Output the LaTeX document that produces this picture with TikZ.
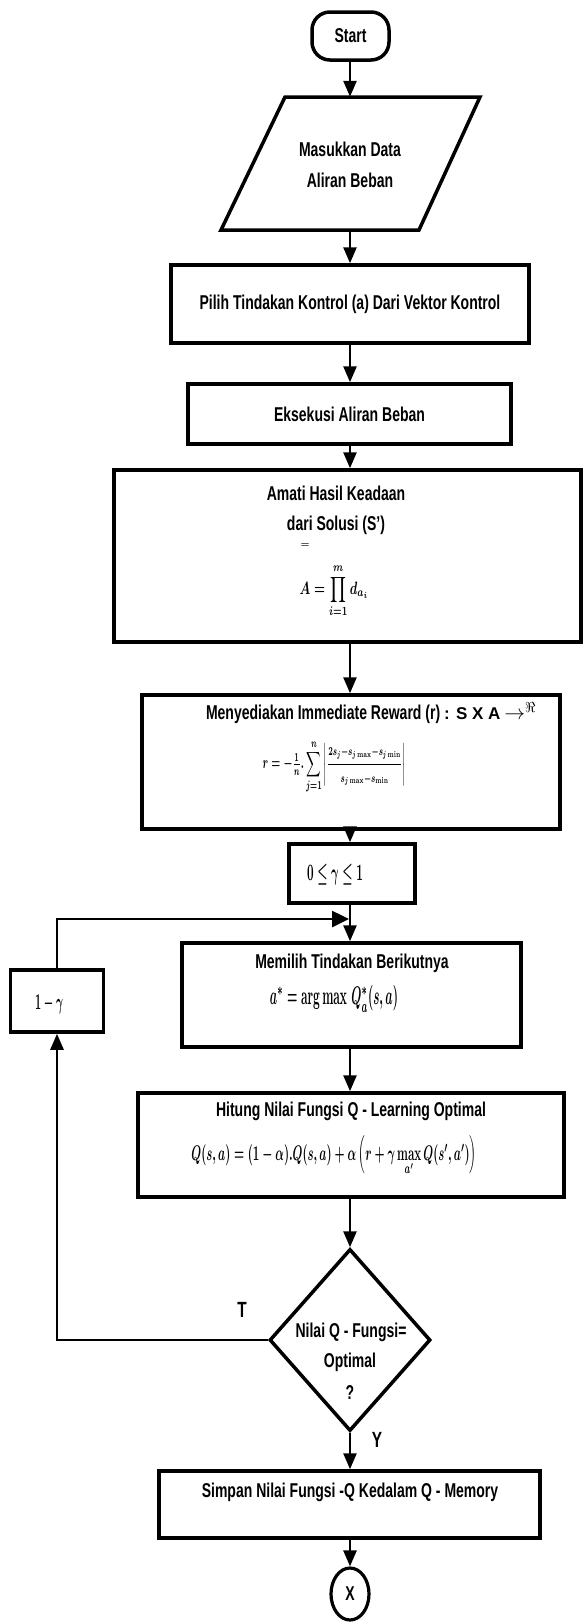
\documentclass[tikz,border=0pt]{standalone}
\usepackage{amsmath}
\usepackage{graphicx}
\usepackage[no-math]{fontspec}
\setmainfont{Liberation Sans}[FakeStretch=0.7]
\newfontfamily\widefont{Liberation Sans}
\usetikzlibrary{arrows.meta,shapes.geometric}
\begin{document}
\begin{tikzpicture}[x=1pt,y=-1pt,
  box/.style={draw,rectangle,line width=3.5pt,inner sep=0pt},
  lbl/.style={inner sep=0pt,align=center,font=\fontsize{20}{24}\selectfont\bfseries},
  frm/.style={inner sep=0pt},
  arr/.style={line width=2.6pt,-{Triangle[length=16pt,width=13pt]}},
  ln/.style={line width=2.6pt}]
\useasboundingbox (0,0) rectangle (584,1623);
\coordinate (ax) at (350,0);

% start
\node[box,rounded corners=18pt,minimum width=77pt,minimum height=48pt,lbl] (start) at (350.5,36) {Start};

% input parallelogram
\draw[line width=3.5pt] (285,97) -- (480,97) -- (419,230) -- (221,230) -- cycle;
\node[inner sep=0pt,minimum width=190pt,minimum height=133pt] (input) at (350.5,163.5) {};
\node[lbl,font=\fontsize{20}{31}\selectfont\bfseries] (tinput) at (350,165) {Masukkan Data\\Aliran Beban};

% process boxes
\node[box,minimum width=358pt,minimum height=78pt,lbl] (pilih) at (350,304) {Pilih Tindakan Kontrol (a) Dari Vektor Kontrol};
\node[box,minimum width=323pt,minimum height=60pt,lbl] (eks) at (349.5,414) {Eksekusi Aliran Beban};

\node[box,minimum width=467pt,minimum height=172pt] (amati) at (347.5,556) {};
\node[lbl] (tamati1) at (336,493) {Amati Hasil Keadaan};
\node[lbl] (tamati2) at (336,525) {dari Solusi (S')};
\node[frm] (eqsign) at (305,546) {\resizebox{9pt}{!}{$\boldsymbol{=}$}};
\node[frm] (famati) at (334,591) {\resizebox*{69pt}{53pt}{\boldmath$\displaystyle A=\prod_{i=1}^{m} d_{a_i}$}};

\node[box,minimum width=418pt,minimum height=134pt] (meny) at (351,762) {};
\node[lbl] (tmeny) at (371,713) {Menyediakan Immediate Reward (r) {\widefont\fontsize{17}{20}\selectfont : S X A} $\rightarrow^{\Re}$};
\node[frm] (fmeny) at (334,767) {\resizebox*{143pt}{54pt}{\boldmath$\displaystyle r=-\tfrac{1}{n}.\sum_{j=1}^{n}\left|\frac{\scriptstyle 2s_j-s_{j\max}-s_{j\min}}{\scriptstyle s_{j\max}-s_{\min}}\right|$}};

\node[box,minimum width=126pt,minimum height=59pt] (gam0) at (352,873.5) {};
\node[frm] (tgam0) at (335,875) {\resizebox*{56pt}{21pt}{\boldmath$0\le\gamma\le1$}};

\node[box,minimum width=339pt,minimum height=104pt] (memilih) at (351.5,995) {};
\node[lbl] (tmemilih) at (352,963) {Memilih Tindakan Berikutnya};
\node[frm] (fmemilih) at (334,999) {\resizebox*{128pt}{27pt}{\boldmath$a^{*}=\arg\max\,Q^{*}_{a}(s,a)$}};

\node[box,minimum width=93pt,minimum height=62pt] (gam1) at (57,1001) {};
\node[frm] (tgam1) at (49,1004) {\resizebox*{28pt}{19pt}{\boldmath$1-\gamma$}};

\node[box,minimum width=426pt,minimum height=104pt] (hitung) at (351,1145) {};
\node[lbl] (thitung) at (351,1111) {Hitung Nilai Fungsi Q - Learning Optimal};
\node[frm] (fhitung) at (334,1156) {\resizebox*{285pt}{40pt}{\boldmath$Q(s,a)=(1-\alpha).Q(s,a)+\alpha\left(r+\gamma\max\limits_{a'}Q(s',a')\right)$}};

% decision
\node[draw,diamond,line width=3.5pt,minimum width=161pt,minimum height=182pt,inner sep=0pt] (dec) at (350,1340) {};
\node[lbl] (tdec1) at (351,1332) {Nilai Q - Fungsi=};
\node[lbl] (tdec2) at (350,1362) {Optimal};
\node[lbl] (tdec3) at (350,1392) {?};
\node[lbl,font=\fontsize{22}{24}\selectfont\bfseries] (labT) at (242,1310) {T};
\node[lbl,font=\fontsize{22}{24}\selectfont\bfseries] (labY) at (377,1440) {Y};

\node[box,minimum width=381pt,minimum height=67pt] (simpan) at (349.5,1504.5) {};
\node[lbl] (tsimpan) at (350,1492) {Simpan Nilai Fungsi -Q Kedalam Q - Memory};

\node[draw,ellipse,line width=3.2pt,minimum width=38pt,minimum height=52pt,lbl] (xend) at (350,1594) {X};

% connectors
\draw[arr] (start.south -| ax) -- (input.north -| ax);
\draw[arr] (input.south -| ax) -- (pilih.north -| ax);
\draw[arr] (pilih.south -| ax) -- (eks.north -| ax);
\draw[arr] (eks.south -| ax) -- (amati.north -| ax);
\draw[arr] (amati.south -| ax) -- (meny.north -| ax);
\draw[arr] (meny.south -| ax) -- (gam0.north -| ax);
\draw[arr] (gam0.south -| ax) -- (memilih.north -| ax);
\draw[arr] (memilih.south -| ax) -- (hitung.north -| ax);
\draw[arr] (hitung.south -| ax) -- (dec.north);
\draw[arr] (dec.south) -- (simpan.north -| ax);
\draw[arr] (simpan.south -| ax) -- (xend.north);

% loop back
\coordinate (junc) at (349,919);
\draw[arr] (dec.west) -| (gam1.south);
\draw[line width=2.6pt,-{Triangle[length=17pt,width=16pt]}] (gam1.north) |- (junc);
\end{tikzpicture}
\end{document}
